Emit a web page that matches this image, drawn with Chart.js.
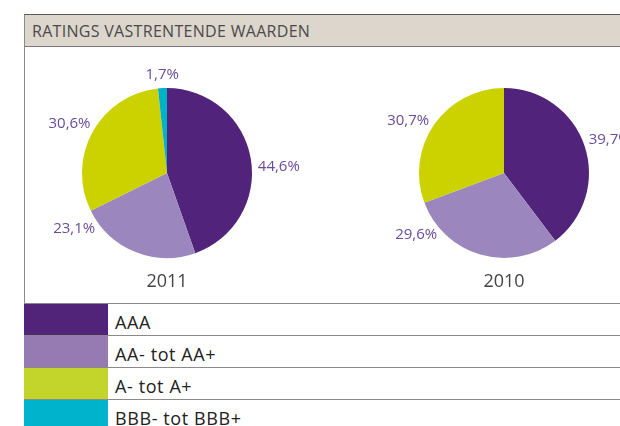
<!DOCTYPE html>
<html>
<head>
<meta charset="utf-8">
<script src="https://cdn.jsdelivr.net/npm/chart.js@4"></script>
<style>
    html, body {
        margin: 0;
        padding: 0;
        width: 620px;
        height: 426px;
        overflow: hidden;
        background: #ffffff;
        font-family: "Open Sans", "DejaVu Sans", sans-serif;
    }
    #frame {
        position: absolute;
        left: 24px;
        top: 14px;
        width: 700px;
        height: 500px;
        border-left: 1px solid #8a8a8a;
        border-top: 1px solid #5a5a5a;
    }
    #header {
        height: 31px;
        background: #dcd6cc;
        border-bottom: 1px solid #7a7a7a;
        color: #4a4a4a;
        font-size: 16px;
        line-height: 33px;
        padding-left: 7px;
        letter-spacing: 0.3px;
    }
    canvas {
        position: absolute;
        top: 50px;
    }
    #pie2011 { left: 0px; }
    #pie2010 { left: 334px; }
    #legend {
        position: absolute;
        left: 24px;
        top: 303px;
        width: 700px;
        border-collapse: collapse;
    }
    #legend td {
        height: 31px;
        padding: 0;
        border-top: 1px solid #8a8a8a;
        border-bottom: 1px solid #8a8a8a;
        font-size: 18px;
        color: #222222;
    }
    #legend td.swatch {
        width: 84px;
    }
    #legend td.name {
        padding-left: 7px;
        padding-top: 4px;
        height: 27px;
        letter-spacing: 0.6px;
    }
</style>
</head>
<body>
<div id="frame">
    <div id="header">RATINGS VASTRENTENDE WAARDEN</div>
</div>
<canvas id="pie2011" width="334" height="246"></canvas>
<canvas id="pie2010" width="340" height="246"></canvas>
<table id="legend"></table>

<script>
const categories = ["AAA", "AA- tot AA+", "A- tot A+", "BBB- tot BBB+"];
const values2011 = [44.6, 23.1, 30.6, 1.7];
const values2010 = [39.7, 29.6, 30.7, 0];
const years = ["2011", "2010"];

const sliceColors = ["#51237a", "#9b87bd", "#ccd100", "#00b2c8"];
const legendColors = ["#512479", "#957bb1", "#c3d42a", "#00b3cd"];

// draws the percent labels outside the slices and the year under the pie
const outsideLabels = {
    id: "outsideLabels",
    afterDatasetsDraw(chart, args, opts) {
        const ctx = chart.ctx;
        const meta = chart.getDatasetMeta(0);
        const data = chart.data.datasets[0].data;

        ctx.save();
        ctx.fillStyle = "#6a4b9c";
        ctx.font = "15px 'Open Sans', 'DejaVu Sans', sans-serif";

        meta.data.forEach((arc, i) => {
            if (!data[i]) return;
            const nudge = (opts.nudge[i] || 0) * Math.PI / 180;
            const mid = (arc.startAngle + arc.endAngle) / 2 + nudge;
            const dist = arc.outerRadius + opts.gap;
            const dx = Math.cos(mid);
            const dy = Math.sin(mid);
            const x = arc.x + dx * dist;
            const y = arc.y + dy * dist;

            if (Math.abs(dx) < 0.3) {
                ctx.textAlign = "center";
                ctx.textBaseline = dy < 0 ? "bottom" : "top";
            } else {
                ctx.textAlign = dx > 0 ? "left" : "right";
                ctx.textBaseline = "middle";
            }
            ctx.fillText(data[i].toFixed(1).replace(".", ",") + "%", x, y);
        });

        const first = meta.data[0];
        ctx.fillStyle = "#444444";
        ctx.font = "18px 'Open Sans', 'DejaVu Sans', sans-serif";
        ctx.textAlign = "center";
        ctx.textBaseline = "middle";
        ctx.fillText(opts.year, first.x, first.y + first.outerRadius + 24);
        ctx.restore();
    }
};

function makePie(id, values, year, nudge) {
    const ctx = document.getElementById(id).getContext("2d");
    return new Chart(ctx, {
        type: "pie",
        data: {
            labels: categories,
            datasets: [{
                data: values,
                backgroundColor: sliceColors,
                borderWidth: 0
            }]
        },
        options: {
            responsive: false,
            animation: false,
            radius: 85,
            layout: { padding: 0 },
            plugins: {
                legend: { display: false },
                tooltip: { enabled: false },
                outsideLabels: { year: year, gap: 6, nudge: nudge }
            }
        },
        plugins: [outsideLabels]
    });
}

makePie("pie2011", values2011, years[0], [6, 30, 4, 0]);
makePie("pie2010", values2010, years[1], [-3, 31, 0, 0]);

// legend rows
const legend = document.getElementById("legend");
categories.forEach((name, i) => {
    const row = document.createElement("tr");
    const sw = document.createElement("td");
    sw.className = "swatch";
    sw.style.background = legendColors[i];
    const label = document.createElement("td");
    label.className = "name";
    label.innerText = name;
    row.appendChild(sw);
    row.appendChild(label);
    legend.appendChild(row);
});
</script>
</body>
</html>
